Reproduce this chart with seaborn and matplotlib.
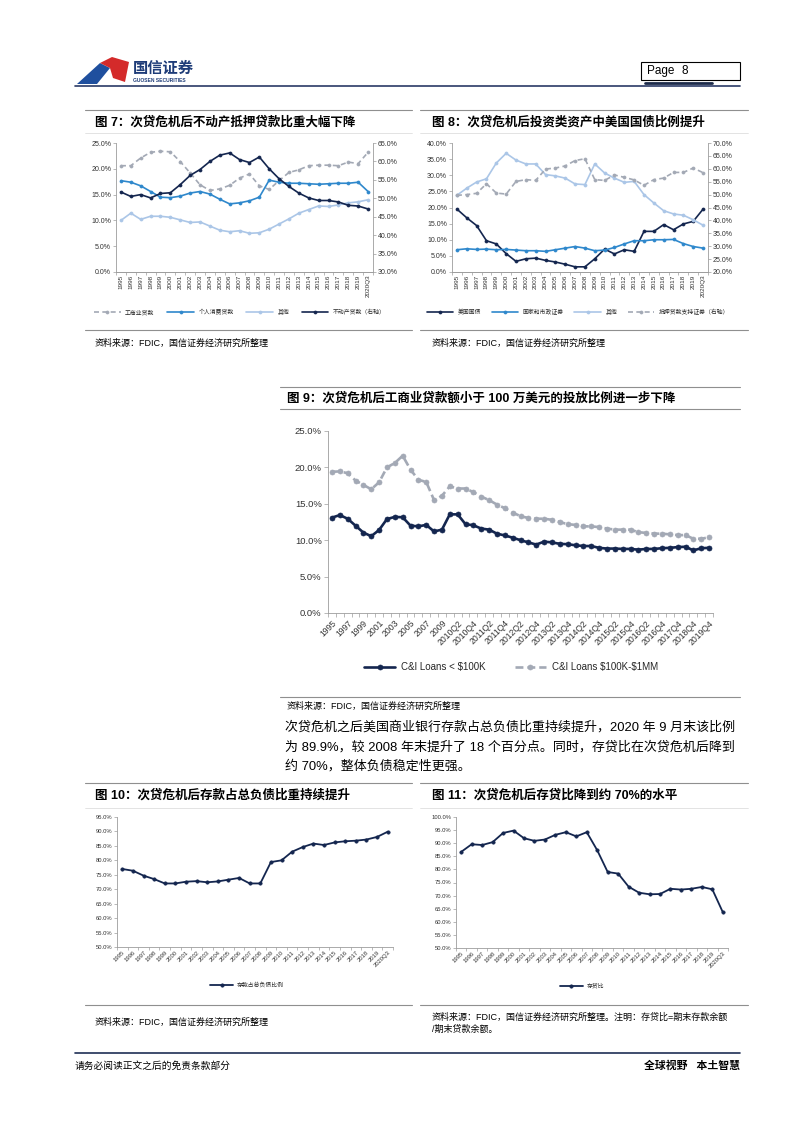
import matplotlib
matplotlib.use("Agg")
import matplotlib.pyplot as plt
from matplotlib.lines import Line2D
from matplotlib.patches import Polygon, Rectangle
import seaborn as sns
import numpy as np

W, H = 802, 1133

# x categories shared by fig 7, 8, 10, 11
years = ['1995', '1996', '1997', '1998', '1999', '2000', '2001', '2002', '2003',
         '2004', '2005', '2006', '2007', '2008', '2009', '2010', '2011', '2012',
         '2013', '2014', '2015', '2016', '2017', '2018', '2019', '2020Q3']

# fig 7 (%)
ci_loans = [20.6, 20.6, 22.1, 23.2, 23.4, 23.3, 21.4, 19.2, 16.9, 15.8, 16.1, 16.8, 18.2,
            19.0, 16.7, 16.0, 17.7, 19.3, 19.8, 20.6, 20.7, 20.7, 20.6, 21.3, 21.0, 23.2]
consumer_loans = [17.7, 17.4, 16.7, 15.6, 14.5, 14.4, 14.7, 15.3, 15.6, 15.1, 14.1, 13.2, 13.4,
                  13.8, 14.5, 17.8, 17.4, 17.2, 17.2, 17.1, 17.0, 17.1, 17.2, 17.2, 17.4, 15.6]
other_loans = [10.0, 11.4, 10.2, 10.8, 10.8, 10.6, 10.1, 9.6, 9.7, 8.9, 8.1, 7.8, 8.0,
               7.5, 7.6, 8.3, 9.3, 10.3, 11.4, 12.1, 12.8, 12.7, 13.0, 13.4, 13.6, 14.0]
real_estate_loans = [51.7, 50.5, 51.0, 50.1, 51.3, 51.5, 53.7, 56.2, 57.8, 60.0, 61.7, 62.3, 60.5,
                     59.7, 61.2, 58.0, 55.3, 53.2, 51.4, 50.1, 49.4, 49.4, 49.0, 48.1, 47.9, 47.1]

# fig 8 (%)
treasury = [19.5, 16.8, 14.4, 9.7, 8.7, 5.7, 3.3, 4.1, 4.3, 3.6, 3.1, 2.4, 1.6,
            1.6, 4.1, 7.1, 5.6, 6.9, 6.4, 12.6, 12.6, 14.7, 13.1, 14.9, 15.7, 19.5]
muni = [6.9, 7.2, 7.0, 7.1, 6.9, 7.0, 6.8, 6.6, 6.6, 6.4, 6.9, 7.4, 7.9,
        7.4, 6.6, 6.8, 7.6, 8.7, 9.7, 9.7, 10.0, 10.0, 10.1, 8.8, 7.9, 7.4]
other_inv = [23.8, 26.0, 27.9, 28.9, 33.8, 36.8, 34.7, 33.5, 33.5, 30.2, 29.8, 29.1, 27.3,
             27.1, 33.5, 30.7, 29.1, 27.8, 28.1, 24.0, 21.4, 19.0, 18.0, 17.6, 16.2, 14.5]
mbs = [49.7, 50.0, 50.5, 54.2, 50.6, 50.2, 55.1, 55.8, 55.5, 59.9, 60.3, 61.1, 63.2,
       63.9, 55.8, 55.5, 57.6, 56.7, 55.7, 53.6, 55.8, 56.4, 58.6, 58.6, 60.3, 58.5]

# fig 9 (%)
periods = ['1995', '1996', '1997', '1998', '1999', '2000', '2001', '2002', '2003', '2004',
           '2005', '2006', '2007', '2008', '2009',
           '2010Q1', '2010Q2', '2010Q3', '2010Q4', '2011Q1', '2011Q2', '2011Q3', '2011Q4',
           '2012Q1', '2012Q2', '2012Q3', '2012Q4', '2013Q1', '2013Q2', '2013Q3', '2013Q4',
           '2014Q1', '2014Q2', '2014Q3', '2014Q4', '2015Q1', '2015Q2', '2015Q3', '2015Q4',
           '2016Q1', '2016Q2', '2016Q3', '2016Q4', '2017Q2', '2017Q4', '2018Q2', '2018Q4',
           '2019Q2', '2019Q4']
ci_small = [13.1, 13.45, 12.95, 12.0, 11.05, 10.55, 11.4, 12.9, 13.2, 13.15,
            12.0, 11.9, 12.1, 11.2, 11.45, 13.55, 13.55, 12.2, 12.05, 11.6,
            11.45, 10.9, 10.65, 10.35, 10.0, 9.7, 9.4, 9.8, 9.7, 9.5,
            9.45, 9.3, 9.2, 9.2, 8.95, 8.85, 8.85, 8.8, 8.8, 8.7,
            8.8, 8.8, 8.9, 8.95, 9.05, 9.1, 8.6, 8.9, 8.95]
ci_mid = [19.4, 19.45, 19.2, 18.2, 17.6, 17.0, 17.95, 20.0, 20.6, 21.6,
          19.7, 18.3, 18.0, 15.5, 16.1, 17.4, 17.1, 17.1, 16.6, 16.0,
          15.5, 14.9, 14.4, 13.8, 13.3, 13.05, 12.95, 12.95, 12.8, 12.5,
          12.2, 12.1, 11.9, 11.9, 11.8, 11.6, 11.45, 11.45, 11.45, 11.1,
          11.0, 10.9, 10.9, 10.8, 10.7, 10.7, 10.2, 10.2, 10.4]

# fig 10 / 11 (%)
deposit_ratio = [77.0, 76.4, 74.7, 73.5, 72.0, 72.0, 72.6, 72.8, 72.4, 72.7, 73.3, 73.9, 72.0,
                 72.0, 79.4, 80.0, 83.0, 84.6, 85.8, 85.3, 86.2, 86.6, 86.8, 87.2, 88.1, 89.9]
loan_deposit = [86.7, 89.6, 89.3, 90.4, 93.9, 94.8, 91.9, 90.9, 91.4, 93.2, 94.2, 92.6, 94.2,
                87.3, 79.0, 78.4, 73.4, 71.1, 70.5, 70.6, 72.6, 72.3, 72.6, 73.3, 72.4, 63.7]

sns.set_theme(style="white")
plt.rcParams['font.family'] = ['Liberation Sans', 'Noto Sans CJK SC']
plt.rcParams['axes.unicode_minus'] = False

NAVY = '#14264f'
BLUE = '#2f88cc'
LIGHT = '#abc6e7'
GREY = '#a3a9b5'
AXIS = '#9c9c9c'
TXT = '#333333'

fig = plt.figure(figsize=(W / 100, H / 100), dpi=100)


def fx(x):
    return x / W


def fy(y):
    return 1 - y / H


def rect(x0, y0, x1, y1):
    return [fx(x0), fy(y1), (x1 - x0) / W, (y1 - y0) / H]


def hline(x0, x1, y, color='#8f8f8f', lw=0.8):
    fig.add_artist(Line2D([fx(x0), fx(x1)], [fy(y), fy(y)], color=color, lw=lw,
                          transform=fig.transFigure))


def txt(x, y, s, size, **kw):
    kw.setdefault('va', 'center')
    kw.setdefault('color', 'black')
    fig.text(fx(x), fy(y), s, fontsize=size, **kw)


def draw(ax, vals, color, label, ls='-', ms=2.2, lw=1.2):
    sns.lineplot(x=np.arange(len(vals)), y=vals, ax=ax, color=color, linestyle=ls,
                 marker='o', markersize=ms, markeredgecolor=color, markeredgewidth=0.5,
                 linewidth=lw, label=label, legend=False)


def yaxis(ax, lo, hi, step, size, side='left'):
    ticks = np.arange(lo, hi + 0.01, step)
    ax.set_ylim(lo, hi)
    ax.set_yticks(ticks)
    ax.set_yticklabels([f'{t:.1f}%' for t in ticks], fontsize=size, color=TXT)
    ax.set_ylabel('')
    ax.tick_params(axis='y', direction='out', length=2, width=0.5, color=AXIS, pad=1.5,
                   left=(side == 'left'), right=(side == 'right'),
                   labelleft=(side == 'left'), labelright=(side == 'right'))


def xaxis(ax, labels, size, rot, every=1):
    n = len(labels)
    ax.set_xlim(-0.5, n - 0.5)
    pos = list(range(0, n, every))
    ax.set_xticks(pos)
    ax.set_xticklabels([labels[i] for i in pos], fontsize=size, color=TXT)
    ax.set_xticks(np.arange(-0.5, n, 1.0), minor=True)
    ax.tick_params(axis='x', which='major', length=0, pad=2)
    ax.tick_params(axis='x', which='minor', direction='out', length=2, width=0.5,
                   color=AXIS, bottom=True)
    ax.set_xlabel('')
    for lab in ax.get_xticklabels():
        if rot == 90:
            lab.set_rotation(90)
            lab.set_ha('center')
            lab.set_va('top')
        else:
            lab.set_rotation(rot)
            lab.set_ha('right')
            lab.set_va('top')
            lab.set_rotation_mode('anchor')


def spines(ax, right=False):
    for s in ['top', 'right', 'left', 'bottom']:
        ax.spines[s].set_visible(False)
    ax.spines['bottom'].set_visible(True)
    ax.spines['bottom'].set_color(AXIS)
    ax.spines['bottom'].set_linewidth(0.6)
    side = 'right' if right else 'left'
    ax.spines[side].set_visible(True)
    ax.spines[side].set_color(AXIS)
    ax.spines[side].set_linewidth(0.6)
    ax.set_facecolor('none')
    ax.grid(False)


# ---------------- header ----------------
fig.add_artist(Polygon([(fx(77), fy(84)), (fx(100), fy(63)), (fx(110), fy(68)), (fx(97), fy(84))],
                       closed=True, transform=fig.transFigure, facecolor='#1f4f9e', edgecolor='none'))
fig.add_artist(Polygon([(fx(100), fy(63)), (fx(112), fy(57)), (fx(129), fy(62)), (fx(125), fy(82)),
                        (fx(113), fy(78)), (fx(110), fy(68))],
                       closed=True, transform=fig.transFigure, facecolor='#d42a2a', edgecolor='none'))
txt(133, 69, '国信证券', 11, weight='bold', color='#1e3c78')
txt(133, 81, 'GUOSEN SECURITIES', 3.6, weight='bold', color='#1e3c78')
fig.add_artist(Rectangle((fx(641), fy(80)), 99 / W, 18 / H, transform=fig.transFigure,
                         facecolor='none', edgecolor='black', lw=0.8))
txt(647, 71, 'Page', 8.5)
txt(681, 71, '8', 8.5)
hline(645, 712, 83.3, color='#1c2a4a', lw=2)
hline(75, 740, 85.5, color='#2a3a66', lw=1.2)

# ---------------- fig 7 ----------------
hline(85, 412, 110)
hline(85, 412, 133, color='#d8d8d8', lw=0.5)
txt(95, 122, '图 7：次贷危机后不动产抵押贷款比重大幅下降', 9, weight='bold')
ax7 = fig.add_axes(rect(116, 143, 373, 272))
ax7r = ax7.twinx()
draw(ax7, ci_loans, GREY, '工商业贷款', ls=(0, (3, 2)))
draw(ax7, consumer_loans, BLUE, '个人消费贷款')
draw(ax7, other_loans, LIGHT, '其他')
draw(ax7r, real_estate_loans, NAVY, '不动产贷款（右轴）')
spines(ax7)
spines(ax7r, right=True)
yaxis(ax7, 0, 25, 5, 5)
yaxis(ax7r, 30, 65, 5, 5, side='right')
xaxis(ax7, years, 4.6, 90)
ax7r.set_xlim(-0.5, len(years) - 0.5)
h1, l1 = ax7.get_legend_handles_labels()
h2, l2 = ax7r.get_legend_handles_labels()
fig.legend(h1 + h2, l1 + l2, loc='center', bbox_to_anchor=(fx(240), fy(312)), ncol=4,
           fontsize=4.2, frameon=False, handlelength=4.5, columnspacing=2.2, handletextpad=0.8)
hline(85, 412, 330)
txt(95, 343, '资料来源：FDIC，国信证券经济研究所整理', 6.5)

# ---------------- fig 8 ----------------
hline(420, 748, 110)
hline(420, 748, 133, color='#d8d8d8', lw=0.5)
txt(432, 122, '图 8：次贷危机后投资类资产中美国国债比例提升', 9, weight='bold')
ax8 = fig.add_axes(rect(452, 143, 708, 272))
ax8r = ax8.twinx()
draw(ax8, treasury, NAVY, '美国国债')
draw(ax8, muni, BLUE, '国家和市政证券')
draw(ax8, other_inv, LIGHT, '其他')
draw(ax8r, mbs, GREY, '抵押贷款支持证券（右轴）', ls=(0, (3, 2)))
spines(ax8)
spines(ax8r, right=True)
yaxis(ax8, 0, 40, 5, 5)
yaxis(ax8r, 20, 70, 5, 5, side='right')
xaxis(ax8, years, 4.6, 90)
ax8r.set_xlim(-0.5, len(years) - 0.5)
h1, l1 = ax8.get_legend_handles_labels()
h2, l2 = ax8r.get_legend_handles_labels()
fig.legend(h1 + h2, l1 + l2, loc='center', bbox_to_anchor=(fx(578), fy(312)), ncol=4,
           fontsize=4.2, frameon=False, handlelength=4.5, columnspacing=1.8, handletextpad=0.8)
hline(420, 748, 330)
txt(432, 343, '资料来源：FDIC，国信证券经济研究所整理', 6.5)

# ---------------- fig 9 ----------------
hline(280, 740, 387)
hline(280, 740, 409)
txt(287, 398, '图 9：次贷危机后工商业贷款额小于 100 万美元的投放比例进一步下降', 9, weight='bold')
ax9 = fig.add_axes(rect(328, 431, 713, 613))
draw(ax9, ci_small, NAVY, r'C&I Loans < \$100K', ms=3.6, lw=1.9)
draw(ax9, ci_mid, GREY, r'C&I Loans \$100K-\$1MM', ls=(0, (3, 1.5)), ms=3.6, lw=1.9)
spines(ax9)
yaxis(ax9, 0, 25, 5, 6.8)
ax9.tick_params(axis='y', length=3)
xaxis(ax9, periods, 6.2, 45, every=2)
ax9.tick_params(axis='x', which='minor', length=3)
ax9.tick_params(axis='x', which='major', pad=4)
h, l = ax9.get_legend_handles_labels()
fig.legend(h, l, loc='center', bbox_to_anchor=(fx(511), fy(667)), ncol=2,
           fontsize=7, frameon=False, handlelength=3.2, columnspacing=3.0, handletextpad=0.6)
hline(280, 740, 697)
txt(287, 706, '资料来源：FDIC，国信证券经济研究所整理', 6.5)

# ---------------- paragraph ----------------
txt(285, 727, '次贷危机之后美国商业银行存款占总负债比重持续提升，2020 年 9 月末该比例', 9.35)
txt(285, 747, '为 89.9%，较 2008 年末提升了 18 个百分点。同时，存贷比在次贷危机后降到', 9.35)
txt(285, 766, '约 70%，整体负债稳定性更强。', 9.35)

# ---------------- fig 10 ----------------
hline(85, 412, 783)
hline(85, 412, 808, color='#d8d8d8', lw=0.5)
txt(95, 795, '图 10：次贷危机后存款占总负债比重持续提升', 9, weight='bold')
ax10 = fig.add_axes(rect(117, 817, 393, 947))
draw(ax10, deposit_ratio, NAVY, '存款占总负债比例', ms=2.4, lw=1.3)
spines(ax10)
yaxis(ax10, 50, 95, 5, 4.2)
xaxis(ax10, years, 4.2, 45)
h, l = ax10.get_legend_handles_labels()
fig.legend(h, l, loc='center', bbox_to_anchor=(fx(247), fy(985)), fontsize=4.2,
           frameon=False, handlelength=4, handletextpad=0.6)
hline(85, 412, 1005)
txt(95, 1022, '资料来源：FDIC，国信证券经济研究所整理', 6.5)

# ---------------- fig 11 ----------------
hline(420, 748, 783)
hline(420, 748, 808, color='#d8d8d8', lw=0.5)
txt(432, 795, '图 11：次贷危机后存贷比降到约 70%的水平', 9, weight='bold')
ax11 = fig.add_axes(rect(456, 817, 728, 948))
draw(ax11, loan_deposit, NAVY, '存贷比', ms=2.4, lw=1.3)
spines(ax11)
yaxis(ax11, 50, 100, 5, 4.2)
xaxis(ax11, years, 4.2, 45)
h, l = ax11.get_legend_handles_labels()
fig.legend(h, l, loc='center', bbox_to_anchor=(fx(582), fy(986)), fontsize=4.2,
           frameon=False, handlelength=4, handletextpad=0.6)
hline(420, 748, 1005)
txt(432, 1017, '资料来源：FDIC，国信证券经济研究所整理。注明：存贷比=期末存款余额', 6.5)
txt(432, 1029, '/期末贷款余额。', 6.5)

# ---------------- footer ----------------
hline(75, 740, 1053, color='#1f2f55', lw=1.2)
txt(75, 1066, '请务必阅读正文之后的免责条款部分', 7)
txt(740, 1066, '全球视野   本土智慧', 7.8, ha='right', weight='bold')

fig.savefig('out.png', dpi=100)
